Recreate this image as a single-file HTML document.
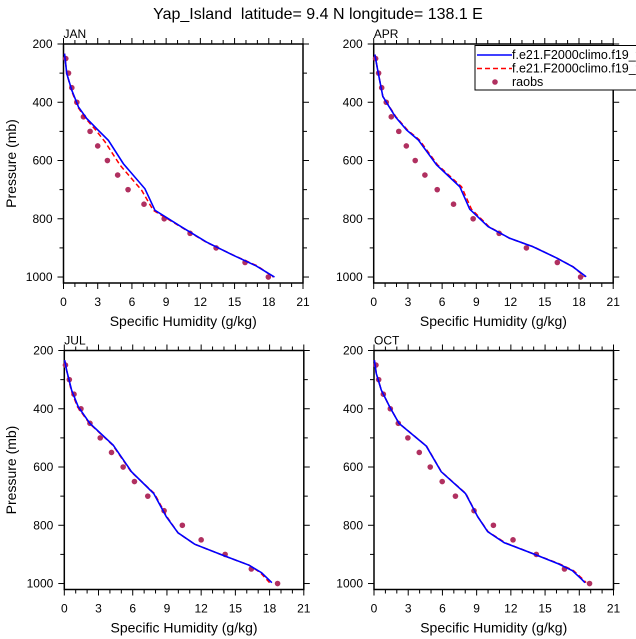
<!DOCTYPE html>
<html><head><meta charset="utf-8"><style>
body{margin:0;background:#fff;}
svg{display:block;font-family:"Liberation Sans",sans-serif;}
</style></head><body>
<svg id="chart" width="636" height="639" viewBox="0 0 636 639" xmlns="http://www.w3.org/2000/svg">
<text x="318" y="19" text-anchor="middle" font-size="16" style="white-space:pre">Yap_Island  latitude= 9.4 N longitude= 138.1 E</text>
</svg>
<script>
const months = ['JAN','APR','JUL','OCT'];
const xTicks = [0,3,6,9,12,15,18,21];
const yTicks = [200,400,600,800,1000];
// model 1 (blue) [q, p]
const janBlue = [[0.09,233],[0.29,302],[0.73,359],[1.31,416],[2.04,456],[2.92,491],[3.94,531],[5.25,611],[7.14,697],[8.02,771],[10.35,828],[12.54,880],[14.87,925],[16.9,962],[18.5,1000]];
const janRed  = [[0.09,233],[0.29,302],[0.7,359],[1.25,416],[1.95,456],[2.8,494],[3.64,536],[4.96,616],[6.85,702],[7.87,771],[10.3,828],[12.5,880],[14.9,925],[17.0,962],[18.4,1000]];
const janObs  = [[0.2,250],[0.44,300],[0.73,350],[1.17,400],[1.75,450],[2.33,500],[3.0,550],[3.85,600],[4.75,650],[5.66,700],[7.06,750],[8.83,800],[11.1,850],[13.38,900],[15.92,950],[17.96,1000]];
const aprBlue = [[0.1,236],[0.4,300],[0.8,380],[1.9,450],[2.88,495],[3.9,529],[5.51,615],[7.55,690],[8.42,767],[10.03,827],[11.93,867],[13.97,896],[16.01,934],[17.47,965],[18.63,999]];
const aprRed  = [[0.1,236],[0.4,300],[0.8,380],[1.95,450],[2.95,495],[4.0,529],[5.6,615],[7.7,690],[8.57,767],[10.1,827],[11.9,867],[14.0,896],[16.0,934],[17.5,965],[18.5,999]];
const aprObs  = [[0.17,250],[0.43,300],[0.7,350],[1.1,400],[1.54,450],[2.2,500],[2.86,550],[3.64,600],[4.49,650],[5.57,700],[7.0,750],[8.72,800],[11.0,850],[13.39,900],[16.1,950],[18.14,1000]];
const julBlue = [[0.03,233],[0.2,267],[0.64,336],[1.22,393],[2.24,450],[4.29,525],[5.89,616],[7.84,691],[8.95,771],[9.97,826],[11.43,865],[13.9,903],[16.2,937],[17.3,963],[18.2,997]];
const julRed  = [[0.03,233],[0.2,267],[0.6,336],[1.15,393],[2.2,450],[4.25,525],[5.85,616],[7.9,691],[9.0,771],[9.97,826],[11.43,865],[13.9,903],[16.2,937],[17.2,963],[18.0,997]];
const julObs  = [[0.1,250],[0.44,300],[0.85,350],[1.46,400],[2.25,450],[3.15,500],[4.14,550],[5.16,600],[6.15,650],[7.32,700],[8.75,750],[10.35,800],[12.0,850],[14.1,900],[16.4,950],[18.7,1000]];
const octBlue = [[0.03,233],[0.2,279],[0.64,336],[1.37,393],[2.19,450],[4.58,528],[5.89,616],[8.02,691],[9.1,771],[9.97,822],[11.43,860],[13.9,897],[16.2,933],[17.4,956],[18.2,985],[18.5,997]];
const octRed  = [[0.03,233],[0.2,279],[0.64,336],[1.37,393],[2.19,450],[4.6,528],[5.9,616],[8.05,691],[9.1,771],[10.0,822],[11.5,860],[13.9,897],[16.3,933],[17.5,956],[18.3,985],[18.6,997]];
const octObs  = [[0.17,250],[0.41,300],[0.82,350],[1.43,400],[2.13,450],[2.97,500],[3.97,550],[4.93,600],[5.98,650],[7.14,700],[8.77,750],[10.47,800],[12.19,850],[14.23,900],[16.7,950],[18.9,1000]];
const blueSeries=[janBlue,aprBlue,julBlue,octBlue];
const redSeries=[janRed,aprRed,julRed,octRed];
const obsSeries=[janObs,aprObs,julObs,octObs];
const legendLabels=['f.e21.F2000climo.f19_f19.001','f.e21.F2000climo.f19_f19.002','raobs'];

const NS='http://www.w3.org/2000/svg';
const svg=document.getElementById('chart');
function mk(tag,attrs,parent){const e=document.createElementNS(NS,tag);for(const k in attrs)e.setAttribute(k,attrs[k]);(parent||svg).appendChild(e);return e;}
const W=239.5,H=239, PMIN=200,PMAX=1020.5;
const origins=[[63.5,44],[373.7,44],[64.3,350.5],[374,350.5]];
months.forEach((m,i)=>{
  const [L,T]=origins[i];
  const xs=q=>L+q/21*W;
  const ys=p=>T+(p-PMIN)/(PMAX-PMIN)*H;
  const g=mk('g',{});
  
  
  for(let q=0;q<=21;q++){
    const maj=q%3===0, len=maj?6:4;
    const x=xs(q);
    const t1=mk('line',{x1:x,x2:x,y1:T+H,y2:T+H+len,stroke:'#000','stroke-width':1},g);
    
    
    const t2=mk('line',{x1:x,x2:x,y1:T,y2:T-len,stroke:'#000','stroke-width':1},g);
    
    
  }
  for(let p=200;p<=1000;p+=100){
    const maj=p%200===0, len=maj?6:4;
    const y=ys(p);
    const t1=mk('line',{x1:L,x2:L-len,y1:y,y2:y,stroke:'#000','stroke-width':1},g);
    
    
    const t2=mk('line',{x1:L+W,x2:L+W+len,y1:y,y2:y,stroke:'#000','stroke-width':1},g);
    
    
  }
  xTicks.forEach(q=>{
    const t=mk('text',{x:xs(q),y:T+H+23,'text-anchor':'middle','font-size':12},g);
    t.textContent=q;
    
    
  });
  yTicks.forEach(p=>{
    const t=mk('text',{x:L-11,y:ys(p)+4,'text-anchor':'end','font-size':12},g);
    t.textContent=p;
    
    
  });
  const fr=mk('rect',{x:L,y:T,width:W,height:H,fill:'none',stroke:'#000','stroke-width':1.5},g);
  
  
  const lab=mk('text',{x:L,y:T-6,'font-size':12},g);
  lab.textContent=m;
  
  
  const xt=mk('text',{x:L+W/2,y:T+H+43,'text-anchor':'middle','font-size':14},g);
  xt.textContent='Specific Humidity (g/kg)';
  
  
  if(i%2===0){
    const yt=mk('text',{x:0,y:0,'text-anchor':'middle','font-size':14,transform:`translate(16,${T+H/2}) rotate(-90)`},g);
    yt.textContent='Pressure (mb)';
    
    
  }
  obsSeries[i].forEach(([q,p])=>{
    const c=mk('circle',{cx:xs(q),cy:ys(p),r:2.8,fill:'#b03060'},g);
    
    
  });
  const rl=mk('polyline',{points:redSeries[i].map(([q,p])=>xs(q)+','+ys(p)).join(' '),fill:'none',stroke:'#ff0000','stroke-width':1.5,'stroke-dasharray':'5,3'},g);
  
  
  const bl=mk('polyline',{points:blueSeries[i].map(([q,p])=>xs(q)+','+ys(p)).join(' '),fill:'none',stroke:'#0000ff','stroke-width':1.6},g);
  
  
});
const lg=mk('g',{});


const lb=mk('rect',{x:475,y:45.5,width:170,height:44.5,fill:'#fff',stroke:'#000','stroke-width':1},lg);


const rows=[55,68.5,82];
const l1=mk('line',{x1:477,x2:512,y1:rows[0],y2:rows[0],stroke:'#0000ff','stroke-width':1.6},lg);


const l2=mk('line',{x1:477,x2:512,y1:rows[1],y2:rows[1],stroke:'#ff0000','stroke-width':1.5,'stroke-dasharray':'5,3'},lg);


const l3=mk('circle',{cx:495,cy:rows[2],r:2.8,fill:'#b03060'},lg);


legendLabels.forEach((s,k)=>{
  const t=mk('text',{x:512,y:rows[k]+4,'font-size':12.5},lg);
  t.textContent=s;
  
  
});
</script>
</body></html>
